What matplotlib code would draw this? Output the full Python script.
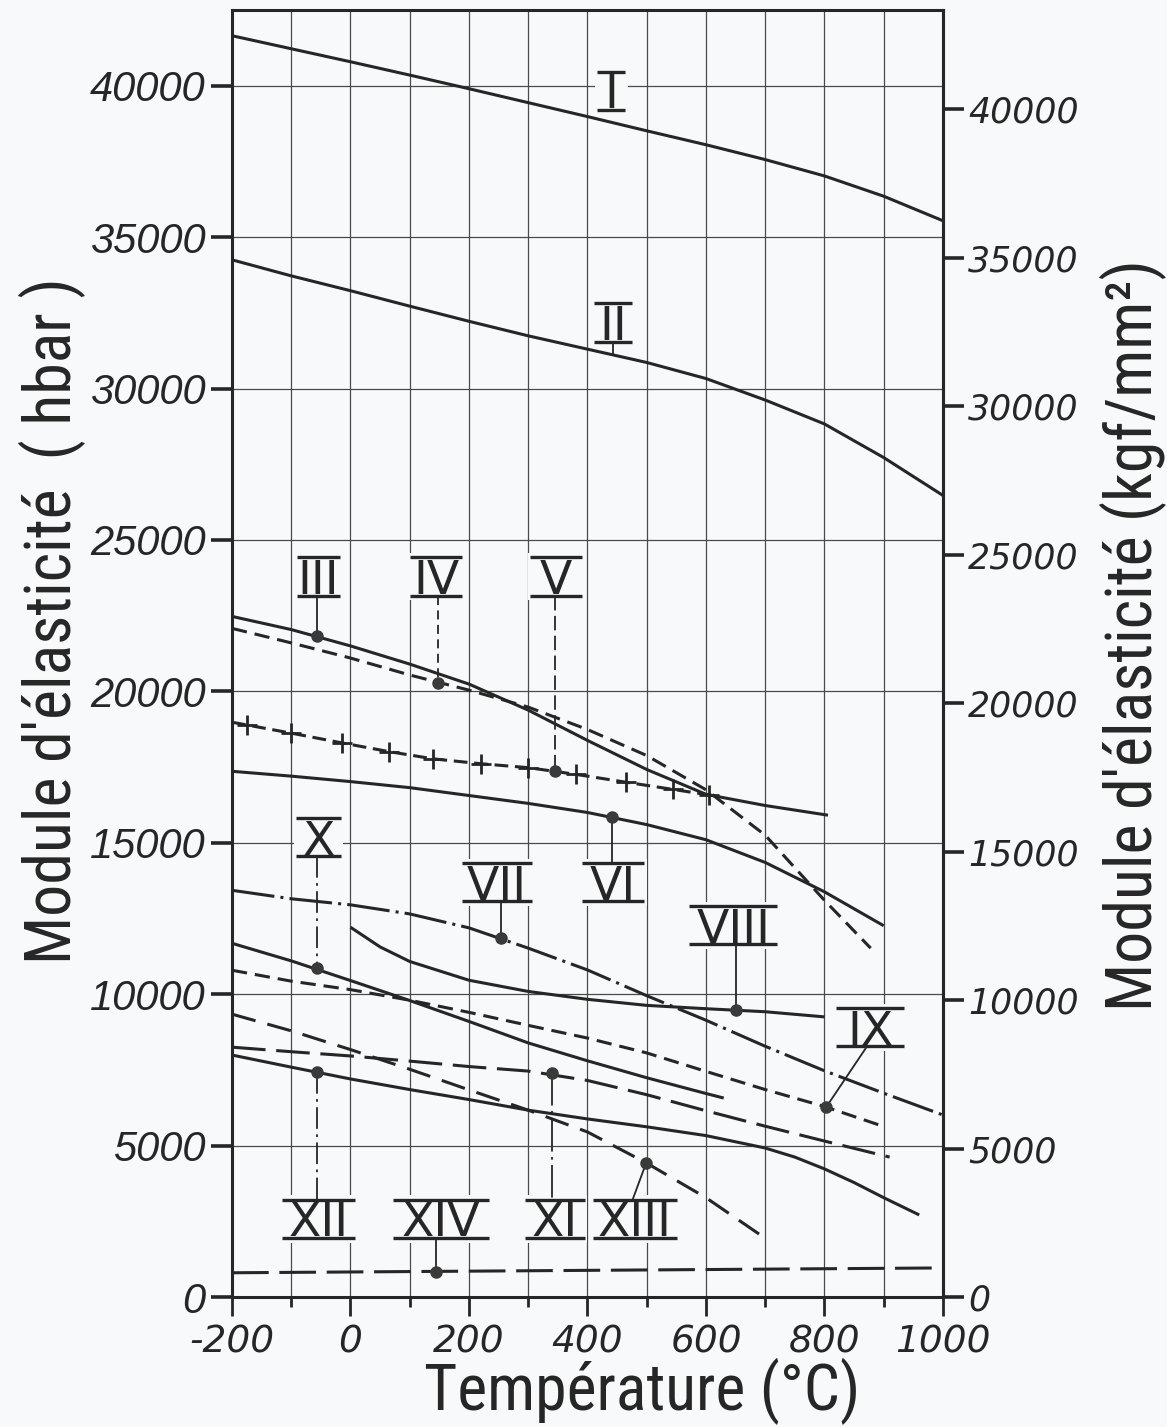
import matplotlib
matplotlib.use('Agg')
import matplotlib.pyplot as plt
from matplotlib import font_manager as fm
from matplotlib.patches import Rectangle

# -------------------------------------------------------------------------
# Données lues sur l'abaque : température (°C) -> module d'élasticité (hbar)
# -------------------------------------------------------------------------
T_I = [-200, -100, 0, 100, 200, 300, 400, 500, 600, 700, 800, 900, 1000]
E_I = [41650, 41220, 40790, 40350, 39900, 39440, 38980, 38510, 38050, 37560, 37020, 36350, 35540]

T_II = [-200, -100, 0, 100, 200, 300, 400, 500, 600, 700, 800, 900, 1000]
E_II = [34250, 33720, 33230, 32720, 32220, 31740, 31300, 30860, 30330, 29620, 28830, 27720, 26470]

T_III = [-200, -100, 0, 100, 200, 300, 400, 500, 600, 610]
E_III = [22475, 22040, 21500, 20900, 20240, 19380, 18380, 17420, 16600, 16560]

T_IV = [-200, -100, 0, 100, 200, 300, 400, 500, 600, 700, 800, 878]
E_IV = [22080, 21600, 21100, 20540, 20040, 19480, 18740, 17880, 16750, 15250, 13100, 11520]

T_V = [-200, -175, -100, -15, 65, 140, 220, 300, 380, 465, 545, 605]
E_V = [18980, 18890, 18620, 18300, 18010, 17770, 17610, 17480, 17260, 17000, 16760, 16580]
T_V_fin = [605, 700, 806]
E_V_fin = [16580, 16230, 15910]

T_VI = [-200, -100, 0, 100, 200, 300, 400, 500, 600, 700, 800, 900]
E_VI = [17360, 17200, 17020, 16820, 16560, 16300, 16000, 15600, 15100, 14350, 13380, 12260]

T_VII = [-200, -100, 0, 100, 200, 300, 400, 500, 600, 700, 800, 900, 1000]
E_VII = [13430, 13150, 12950, 12650, 12190, 11520, 10800, 9950, 9140, 8280, 7470, 6730, 6010]

T_VIII = [0, 50, 100, 200, 300, 400, 500, 600, 700, 800]
E_VIII = [12210, 11560, 11080, 10460, 10090, 9830, 9630, 9520, 9420, 9250]

T_IX = [-200, -100, 0, 100, 200, 300, 400, 500, 600, 700, 800, 900]
E_IX = [10790, 10430, 10150, 9800, 9400, 8970, 8550, 8060, 7450, 6850, 6290, 5630]

T_X = [-200, -100, 0, 100, 200, 300, 400, 500, 600, 630]
E_X = [11680, 11100, 10450, 9790, 9100, 8390, 7800, 7240, 6720, 6570]

T_XI = [-200, -100, 0, 100, 200, 300, 400, 500, 600, 700, 800, 910]
E_XI = [8250, 8100, 7960, 7790, 7610, 7460, 7150, 6680, 6150, 5640, 5150, 4620]

T_XII = [-200, -100, 0, 100, 200, 300, 400, 500, 600, 700, 750, 800, 850, 900, 960]
E_XII = [7990, 7590, 7200, 6850, 6520, 6170, 5880, 5620, 5330, 4920, 4620, 4230, 3780, 3280, 2710]

T_XIII = [-200, -100, 0, 100, 200, 300, 400, 500, 600, 700]
E_XIII = [9340, 8790, 8170, 7520, 6840, 6170, 5450, 4420, 3280, 1940]

T_XIV = [-200, 1000]
E_XIV = [800, 960]

# points repérés (pastilles)
points_T = [-57, 148, 345, 441, 254, 651, 803, -57, 340, -57, 499, 145]
points_E = [21815, 20264, 17360, 15842, 11848, 9472, 6271, 10870, 7393, 7426, 4422, 825]

# repères en chiffres romains : texte, centre T, centre E, demi-largeur (°C)
reperes = [
    ('I', 440, 39835, 24), ('II', 443, 32180, 32),
    ('III', -54, 23795, 37), ('IV', 145, 23795, 44), ('V', 347, 23795, 44),
    ('X', -54, 15182, 38), ('VII', 247, 13696, 59), ('VI', 443, 13696, 53),
    ('VIII', 646, 12277, 74), ('IX', 877, 8911, 57),
    ('XII', -54, 2574, 62), ('XIV', 152, 2574, 81), ('XI', 345, 2574, 50),
    ('XIII', 480, 2574, 71),
]

ticks_E = list(range(0, 40001, 5000))
ticks_T = list(range(-200, 1001, 200))
KGF = 0.980665   # 1 kgf/mm2 = 0.980665 hbar

# -------------------------------------------------------------------------
# Style
# -------------------------------------------------------------------------
FOND = '#f8f9fa'
ENCRE = '#262626'
GRILLE = '#4a4a4a'
LW = 2.2

# police étroite pour les titres d'axes, si disponible
etroites = [f for f in fm.fontManager.ttflist
            if f.style == 'normal' and f.weight in (400, 'normal', 'regular')
            and ('Narrow' in f.name or 'Condensed' in f.name
                 or str(f.stretch) in ('condensed', 'semi-condensed'))]
etroites.sort(key=lambda f: ('Liberation' not in f.name, 'Roboto' not in f.name))
if etroites:
    prop_titre = fm.FontProperties(fname=etroites[0].fname, size=46)
else:
    prop_titre = fm.FontProperties(family='DejaVu Sans', size=38)

fig = plt.figure(figsize=(11.67, 14.27), dpi=100, facecolor=FOND)
ax = fig.add_axes([0.1988, 0.0911, 0.6092, 0.9019])
ax.set_facecolor(FOND)
ax.set_xlim(-200, 1000)
ax.set_ylim(0, 42500)

# grille
ax.set_xticks(ticks_T)
ax.set_xticks(list(range(-100, 1000, 200)), minor=True)
ax.set_yticks(ticks_E)
ax.grid(True, which='both', axis='x', color=GRILLE, linewidth=0.9)
ax.grid(True, which='major', axis='y', color=GRILLE, linewidth=0.9)
ax.set_axisbelow(True)

for s in ax.spines.values():
    s.set_linewidth(LW)
    s.set_color(ENCRE)

ax.tick_params(axis='y', direction='out', length=15, width=2.6, pad=4, color=ENCRE)
ax.tick_params(axis='x', which='major', direction='out', length=14, width=2, pad=6, color=ENCRE)
ax.tick_params(axis='x', which='minor', direction='out', length=7, width=2, color=ENCRE)
ax.set_yticklabels([str(v) for v in ticks_E], fontfamily='Liberation Sans',
                   style='italic', fontsize=30, color=ENCRE)
ax.set_xticklabels([str(v) for v in ticks_T], fontfamily='DejaVu Sans',
                   style='italic', fontsize=27, color=ENCRE)

sec = ax.secondary_yaxis('right', functions=(lambda e: e / KGF, lambda k: k * KGF))
sec.set_yticks(ticks_E)
sec.set_yticklabels([str(v) for v in ticks_E], fontfamily='DejaVu Sans',
                    style='italic', fontsize=25, color=ENCRE)
sec.tick_params(direction='out', length=15, width=2.6, pad=3, color=ENCRE)
sec.spines['right'].set_linewidth(LW)
sec.spines['right'].set_color(ENCRE)

# -------------------------------------------------------------------------
# Courbes
# -------------------------------------------------------------------------
kw = dict(color=ENCRE, linewidth=LW, zorder=3, solid_capstyle='butt')
ax.plot(T_I, E_I, '-', **kw)
ax.plot(T_II, E_II, '-', **kw)
ax.plot(T_III, E_III, '-', **kw)
ax.plot(T_IV, E_IV, linestyle=(0, (5, 2.6)), **kw)
ax.plot(T_V, E_V, linestyle=(0, (4.5, 2.2)), marker='+', markersize=15,
        markeredgewidth=2, markevery=list(range(1, len(T_V))), **kw)
ax.plot(T_V_fin, E_V_fin, '-', **kw)
ax.plot(T_VI, E_VI, '-', **kw)
ax.plot(T_VII, E_VII, linestyle=(0, (14, 2, 1, 2)), **kw)
ax.plot(T_VIII, E_VIII, '-', **kw)
ax.plot(T_IX, E_IX, linestyle=(0, (5, 2.6)), **kw)
ax.plot(T_X, E_X, '-', **kw)
ax.plot(T_XI, E_XI, linestyle=(0, (11, 3.5)), **kw)
ax.plot(T_XII, E_XII, '-', **kw)
ax.plot(T_XIII, E_XIII, linestyle=(0, (8, 4)), **kw)
ax.plot(T_XIV, E_XIV, linestyle=(0, (12, 3.5)), **kw)

ax.plot(points_T, points_E, 'o', color='#3a3a3a', markersize=8, zorder=5)

# -------------------------------------------------------------------------
# Repères et lignes de rappel
# -------------------------------------------------------------------------
H = 630        # demi-hauteur des barres (hbar)
CAP = 575      # demi-hauteur des capitales (hbar)
for txt, tc, ec, dw in reperes:
    ax.add_patch(Rectangle((tc - dw - 4, ec - H - 150), 2 * dw + 8, 2 * H + 300,
                           facecolor=FOND, edgecolor='none', zorder=1.5))
    ax.text(tc, ec - CAP, txt, ha='center', va='baseline', fontsize=34,
            family='DejaVu Sans', color=ENCRE, zorder=4)
    for yb in (ec - H, ec + H):
        ax.plot([tc - dw, tc + dw], [yb, yb], color=ENCRE, linewidth=2.4,
                solid_capstyle='butt', zorder=4)

lk = dict(color=ENCRE, linewidth=1.3, zorder=3)
rappels = [
    ((443, 443), (32180 - H, 31110), '-'),
    ((-57, -57), (23795 - H, 21815), '-'),
    ((148, 148), (23795 - H, 20264), (0, (5, 3))),
    ((345, 345), (23795 - H, 17360), (0, (8, 3))),
    ((441, 441), (15842, 13696 + H), '-'),
    ((254, 254), (13696 - H, 11848), '-'),
    ((651, 651), (12277 - H, 9472), '-'),
    ((872, 803), (8911 - H, 6271), '-'),
    ((-57, -57), (15182 - H, 10870), (0, (12, 3, 1.5, 3))),
    ((-57, -57), (7426, 2574 + H), (0, (12, 3, 1.5, 3))),
    ((340, 340), (7393, 2574 + H), (0, (18, 3, 1.5, 3))),
    ((499, 476), (4422, 2574 + H), '-'),
    ((145, 145), (2574 - H, 825), '-'),
]
for xs, ys, ls in rappels:
    ax.plot(xs, ys, linestyle=ls, **lk)

# -------------------------------------------------------------------------
# Titres des axes
# -------------------------------------------------------------------------
fig.text(0.045, 0.565, "Module d'élasticité  ( hbar )", rotation=90, ha='center',
         va='center', fontproperties=prop_titre, color=ENCRE)
fig.text(0.971, 0.555, "Module d'élasticité (kgf/mm²)", rotation=90, ha='center',
         va='center', fontproperties=prop_titre, color=ENCRE)
fig.text(0.55, 0.025, "Température (°C)", ha='center', va='center',
         fontproperties=prop_titre, color=ENCRE)

fig.savefig('out.png', dpi=100, facecolor=FOND)
